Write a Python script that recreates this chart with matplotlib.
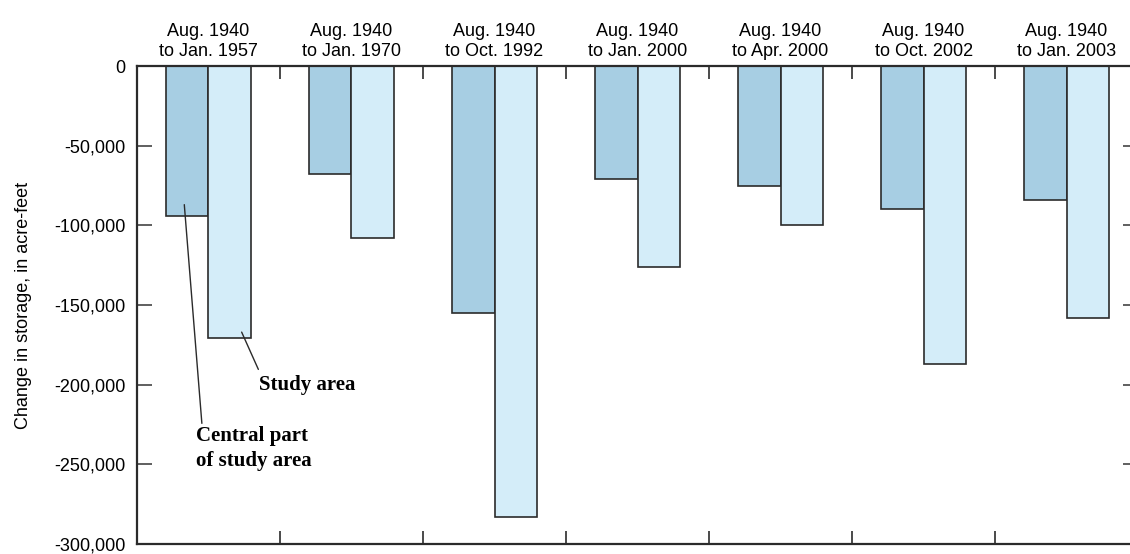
import numpy as np
import matplotlib.pyplot as plt
import matplotlib as mpl

mpl.rcParams['font.family'] = ['Liberation Sans Narrow', 'Liberation Sans', 'DejaVu Sans']
mpl.rcParams['xtick.direction'] = 'in'
mpl.rcParams['ytick.direction'] = 'in'

periods = ["Aug. 1940\nto Jan. 1957", "Aug. 1940\nto Jan. 1970", "Aug. 1940\nto Oct. 1992",
           "Aug. 1940\nto Jan. 2000", "Aug. 1940\nto Apr. 2000", "Aug. 1940\nto Oct. 2002",
           "Aug. 1940\nto Jan. 2003"]
central = [-94000, -68000, -155000, -71000, -75000, -90000, -84000]
study = [-171000, -108000, -283000, -126000, -100000, -187000, -158000]
yticks = [0, -50000, -100000, -150000, -200000, -250000, -300000]

dark = '#a7cee3'
light = '#d4edf9'
edge = '#2b2b2b'

fig = plt.figure(figsize=(11.3, 5.54), dpi=100)
# right spine sits just past the image edge, as in the original
ax = fig.add_axes([0.1212, 0.018, 0.886, 0.8628])

x = np.arange(len(periods))
w = 0.295
ax.bar(x - w/2, central, w, color=dark, edgecolor=edge, linewidth=1.2)
ax.bar(x + w/2, study, w, color=light, edgecolor=edge, linewidth=1.2)

ax.set_xlim(-0.5, len(periods) - 0.5)
ax.set_ylim(-300000, 0)

# group separators on top and bottom spines
ax.set_xticks(x[:-1] + 0.5)
ax.set_xticklabels([])
ax.tick_params(axis='x', which='both', top=True, bottom=True, length=9.5, width=1.2, color=edge)
ax.set_yticks(yticks)
ax.set_yticklabels(['{:,}'.format(v) for v in yticks], fontsize=13)
ax.tick_params(axis='y', left=True, right=True, length=11, width=1.2, color='#444444', pad=8)

for s in ['left', 'top', 'bottom']:
    ax.spines[s].set_linewidth(1.6)
    ax.spines[s].set_color(edge)
ax.spines['right'].set_visible(False)

# period labels above the plot
for xi, lab in zip(x, periods):
    ax.text(xi, 1.012, lab, transform=ax.get_xaxis_transform(), ha='center', va='bottom',
            fontsize=13, linespacing=1.25)

ax.set_ylabel('Change in storage, in acre-feet', fontsize=13, labelpad=16)

# callouts
bold = dict(family='Liberation Serif', fontweight='bold', fontsize=15)
ax.annotate('Study area', xy=(0.232, -167000), xytext=(0.352, -200000),
            ha='left', va='center', **bold,
            arrowprops=dict(arrowstyle='-', color=edge, lw=1.0, shrinkA=2, shrinkB=0,
                            relpos=(0.02, 1.0)))
ax.annotate('Central part\nof study area', xy=(-0.169, -87000), xytext=(-0.085, -226000),
            ha='left', va='top', linespacing=1.3, **bold,
            arrowprops=dict(arrowstyle='-', color=edge, lw=1.0, shrinkA=0, shrinkB=0,
                            relpos=(0.05, 1.0)))

plt.savefig('out.png', dpi=100)
